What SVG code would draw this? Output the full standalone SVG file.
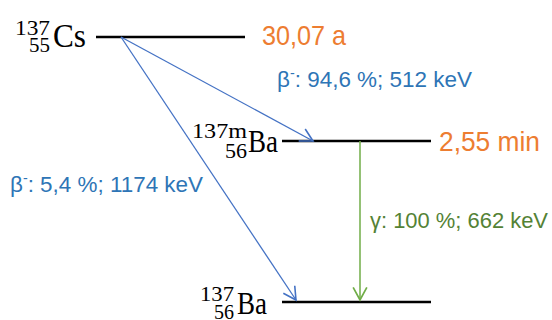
<svg xmlns="http://www.w3.org/2000/svg" width="552" height="320" viewBox="0 0 552 320">
<style>
.lvl{stroke:#000;stroke-width:2.6;fill:none}
.ser{font-family:"Liberation Serif","DejaVu Serif",serif;fill:#000}
.sans{font-family:"Liberation Sans",Arial,sans-serif}
.or{fill:#ED7D31;font-size:28px}
.bl{fill:#2E75B6;font-size:22px}
.gr{fill:#548235;font-size:22px}
.ab{stroke:#4472C4;stroke-width:1.3;fill:none}
.ag{stroke:#70AD47;stroke-width:1.5;fill:none}
</style>
<defs>
<marker id="mb" markerUnits="userSpaceOnUse" markerWidth="16" markerHeight="16" refX="12" refY="7" orient="auto" viewBox="0 0 14 14">
<path d="M1,1 L12,7 L1,13" fill="none" stroke="#4472C4" stroke-width="1.4"/>
</marker>
<marker id="mg" markerUnits="userSpaceOnUse" markerWidth="16" markerHeight="16" refX="12" refY="7" orient="auto" viewBox="0 0 14 14">
<path d="M1,1 L12,7 L1,13" fill="none" stroke="#70AD47" stroke-width="1.5"/>
</marker>
</defs>
<g id="cs137">
<line class="lvl" x1="96" y1="37" x2="245" y2="37"/>
<text class="ser" x="50" y="35" font-size="22" text-anchor="end" textLength="35" lengthAdjust="spacingAndGlyphs">137</text>
<text class="ser" x="50" y="52" font-size="22" text-anchor="end" textLength="21" lengthAdjust="spacingAndGlyphs">55</text>
<text class="ser" x="53" y="47" font-size="33" textLength="33" lengthAdjust="spacingAndGlyphs">Cs</text>
<text class="sans or" x="262" y="45" textLength="84" lengthAdjust="spacingAndGlyphs">30,07 a</text>
</g>
<g id="ba137m">
<line class="lvl" x1="282" y1="141" x2="431" y2="141"/>
<text class="ser" x="247" y="138" font-size="22" text-anchor="end" textLength="55" lengthAdjust="spacingAndGlyphs">137m</text>
<text class="ser" x="247" y="158" font-size="22" text-anchor="end" textLength="22" lengthAdjust="spacingAndGlyphs">56</text>
<text class="ser" x="248" y="152" font-size="32" textLength="30" lengthAdjust="spacingAndGlyphs">Ba</text>
<text class="sans or" x="439" y="151" textLength="101" lengthAdjust="spacingAndGlyphs">2,55 min</text>
</g>
<g id="ba137">
<line class="lvl" x1="282" y1="302" x2="431" y2="302"/>
<text class="ser" x="234" y="301" font-size="22" text-anchor="end" textLength="34" lengthAdjust="spacingAndGlyphs">137</text>
<text class="ser" x="234" y="319" font-size="22" text-anchor="end" textLength="20" lengthAdjust="spacingAndGlyphs">56</text>
<text class="ser" x="237" y="314" font-size="32" textLength="30" lengthAdjust="spacingAndGlyphs">Ba</text>
</g>
<g id="connectors">
<line class="ab" x1="121" y1="37" x2="313" y2="141" marker-end="url(#mb)"/>
<line class="ab" x1="121" y1="37" x2="296" y2="300" marker-end="url(#mb)"/>
<line class="ag" x1="360" y1="141" x2="360" y2="300" marker-end="url(#mg)"/>
<text class="sans bl" x="277" y="87" textLength="195" lengthAdjust="spacingAndGlyphs">β<tspan font-size="14" dy="-9">-</tspan><tspan dy="9">: 94,6 %; 512 keV</tspan></text>
<text class="sans bl" x="10" y="192" textLength="193" lengthAdjust="spacingAndGlyphs">β<tspan font-size="14" dy="-9">-</tspan><tspan dy="9">: 5,4 %; 1174 keV</tspan></text>
<text class="sans gr" x="370" y="228" textLength="178" lengthAdjust="spacingAndGlyphs">γ: 100 %; 662 keV</text>
</g>
</svg>
